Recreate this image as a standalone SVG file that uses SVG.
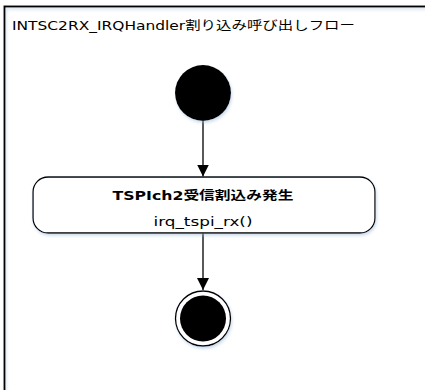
<svg xmlns="http://www.w3.org/2000/svg" width="425" height="390" viewBox="0 0 425 390">
<style>
text{font-family:"DejaVu Sans","Noto Sans CJK JP",sans-serif;fill:#000}
.t{font-size:12px}
.b{font-size:12px;font-weight:bold}
.c{stroke:#000;stroke-width:1.3;fill:none}
</style>
<defs>
<marker id="ah" viewBox="0 0 12 12" refX="12" refY="6" markerWidth="12" markerHeight="12" markerUnits="userSpaceOnUse" orient="auto">
<path d="M0,0 L12,6 L0,12 Z" fill="#000"/>
</marker>
<filter id="sh" x="-20%" y="-20%" width="140%" height="140%">
<feGaussianBlur in="SourceAlpha" stdDeviation="1.5"/>
<feOffset dx="1" dy="2" result="o"/>
<feFlood flood-color="#9bb8d8" flood-opacity="0.5"/>
<feComposite in2="o" operator="in"/>
<feMerge><feMergeNode/><feMergeNode in="SourceGraphic"/></feMerge>
</filter>
</defs>
<g id="frame">
<path d="M4.5,392 V6.5 H427" fill="none" stroke="#000" stroke-width="2" filter="url(#sh)"/>
<text class="t" x="12" y="30" textLength="343" lengthAdjust="spacingAndGlyphs">INTSC2RX_IRQHandler割り込み呼び出しフロー</text>
</g>
<g id="connectors">
<line class="c" x1="203" y1="121" x2="203" y2="176.5" marker-end="url(#ah)"/>
<line class="c" x1="203" y1="233" x2="203" y2="290" marker-end="url(#ah)"/>
</g>
<g id="start">
<circle cx="203" cy="93" r="28" fill="#000" filter="url(#sh)"/>
</g>
<g id="action">
<rect x="33" y="177" width="342" height="56" rx="15" ry="15" fill="#fff" stroke="#000" stroke-width="1.3" filter="url(#sh)"/>
<text class="b" x="203" y="200" text-anchor="middle" textLength="181" lengthAdjust="spacingAndGlyphs">TSPIch2受信割込み発生</text>
<text class="t" x="203" y="226" text-anchor="middle" textLength="99" lengthAdjust="spacingAndGlyphs">irq_tspi_rx()</text>
</g>
<g id="end">
<circle cx="203" cy="318.5" r="27.5" fill="#fff" stroke="#000" stroke-width="1.3" filter="url(#sh)"/>
<circle cx="203" cy="318.5" r="23" fill="#000"/>
</g>
</svg>
